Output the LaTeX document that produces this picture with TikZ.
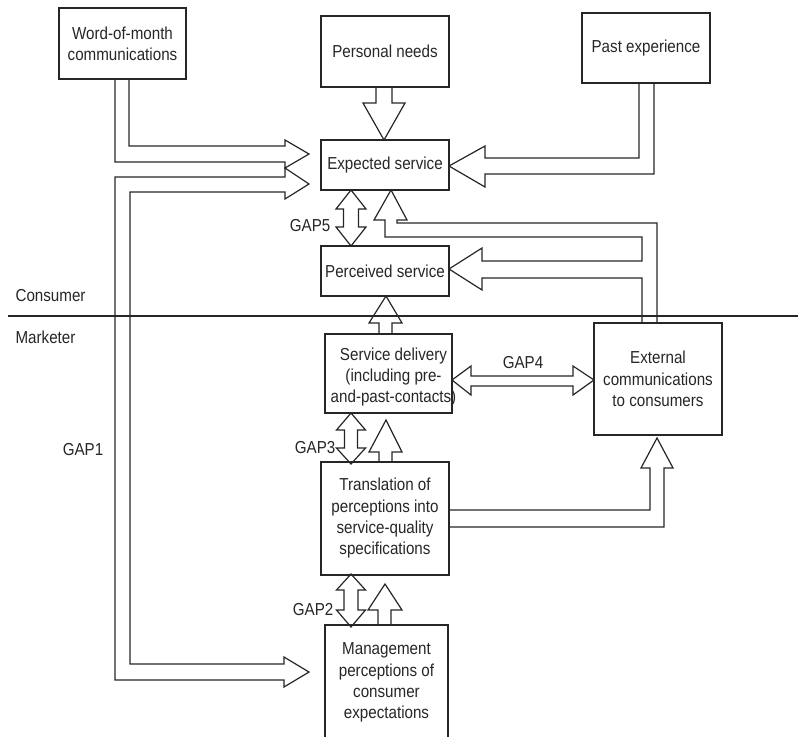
\documentclass[tikz,border=0pt]{standalone}
\usepackage{fontspec}
\setmainfont[FakeStretch=0.875]{Liberation Sans}
\def\px{0.75pt}
\begin{document}
\begin{tikzpicture}[x=0.75pt,y=-0.75pt,line width=0.9pt,color=black!85,
  box/.style={draw,align=center,inner sep=0pt,font=\fontsize{13}{16}\selectfont},
  lbl/.style={inner sep=0pt,font=\fontsize{13}{16}\selectfont},
  blk/.style={line join=miter}]
\useasboundingbox (0,0) rectangle (798,736);
% boxes
\node[box,minimum width=127*\px,minimum height=71*\px] (wom) at (122.5,43.5) {Word-of-month\\communications};
\node[box,minimum width=128*\px,minimum height=71*\px] (pn) at (385,51.5) {Personal needs};
\node[box,minimum width=128*\px,minimum height=70*\px] (pe) at (646,48) {Past experience};
\node[box,minimum width=128*\px,minimum height=50*\px] (es) at (385,165) {Expected service};
\node[box,minimum width=128*\px,minimum height=50*\px] (ps) at (385,271) {Perceived service};
\node[box,minimum width=127*\px,minimum height=79*\px,
  label={[lbl,align=center,xshift=5*\px,yshift=-2.6pt]center:Service delivery\\(including pre-\\and-past-contacts)}] (sd) at (388.5,373.5) {};
\node[box,minimum width=128*\px,minimum height=112*\px] (ec) at (658,379) {External\\communications\\to consumers};
\node[box,minimum width=128*\px,minimum height=113*\px] (tr) at (385,518.5) {Translation of\\perceptions into\\service-quality\\specifications};
\node[box,minimum width=123*\px,minimum height=115*\px] (mp) at (386.5,682.5) {Management\\perceptions of\\consumer\\expectations};
% separator
\coordinate (sepL) at (8,316);
\coordinate (sepR) at (798,316);
\draw (sepL) -- (sepR);
\node[lbl,anchor=west] (cons) at (15,296) {Consumer};
\node[lbl,anchor=west] (mark) at (15,337) {Marketer};
% block arrows
% personal needs -> expected
\draw[blk] (376,87) -- (376,103) -- (363,103) -- (384,140) -- (405,103) -- (392,103) -- (392,87);
% past experience -> expected
\draw[blk] (639,83) -- (639,158) -- (485,158) -- (485,146) -- (449,166) -- (485,187) -- (485,174) -- (654,174) -- (654,83);
% word of month -> expected
\draw[blk] (115,79) -- (115,162) -- (285,162) -- (285,168) -- (309,154) -- (285,140) -- (285,146) -- (129,146) -- (129,79);
% GAP1
\draw[blk] (309,184) -- (285,168) -- (285,177) -- (115,177) -- (115,680) -- (284,680) -- (284,687) -- (309,672) -- (284,657) -- (284,664) -- (130,664) -- (130,192) -- (285,192) -- (285,199) -- cycle;
% GAP5
\draw[blk] (351,190) -- (366,209) -- (358.5,209) -- (358.5,227) -- (366,227) -- (351,246) -- (336,227) -- (343.5,227) -- (343.5,209) -- (336,209) -- cycle;
% external -> expected & perceived
\draw[blk] (642,323) -- (642,278) -- (482,278) -- (482,290) -- (449,269) -- (482,248) -- (482,261) -- (642,261) -- (642,237) -- (385,237) -- (385,220) -- (374,220) -- (391,190) -- (407,220) -- (397,220) -- (397,223) -- (657,223) -- (657,323);
% service delivery -> perceived
\draw[blk] (379,334) -- (379,323) -- (369,323) -- (386,296) -- (402,323) -- (392,323) -- (392,334);
% GAP4
\draw[blk] (452,380) -- (471,366) -- (471,376) -- (573,376) -- (573,366) -- (594,380) -- (573,395) -- (573,386) -- (471,386) -- (471,395) -- cycle;
% GAP3
\draw[blk] (351,413) -- (365.5,430) -- (357.5,430) -- (357.5,448) -- (365.5,448) -- (351,464) -- (336.5,448) -- (344.5,448) -- (344.5,430) -- (336.5,430) -- cycle;
% translation -> service delivery
\draw[blk] (379,462) -- (379,452) -- (369,452) -- (386,420) -- (402,452) -- (392,452) -- (392,462);
% translation -> external
\draw[blk] (449,510) -- (650,510) -- (650,468) -- (641,468) -- (657,438) -- (673,468) -- (664,468) -- (664,527) -- (449,527);
% GAP2
\draw[blk] (351,574) -- (365.5,590) -- (358,590) -- (358,610) -- (365.5,610) -- (351,627) -- (336.5,610) -- (344,610) -- (344,590) -- (336.5,590) -- cycle;
% management -> translation
\draw[blk] (378,625) -- (378,610) -- (368,610) -- (385,584) -- (402,610) -- (391,610) -- (391,625);
% gap labels
\node[lbl] (g1) at (83,450) {GAP1};
\node[lbl,anchor=east] (g5) at (331,226) {GAP5};
\node[lbl,anchor=east] (g3) at (336,448) {GAP3};
\node[lbl,anchor=east] (g2) at (334,610) {GAP2};
\node[lbl] (g4) at (523,363) {GAP4};
\end{tikzpicture}
\end{document}
